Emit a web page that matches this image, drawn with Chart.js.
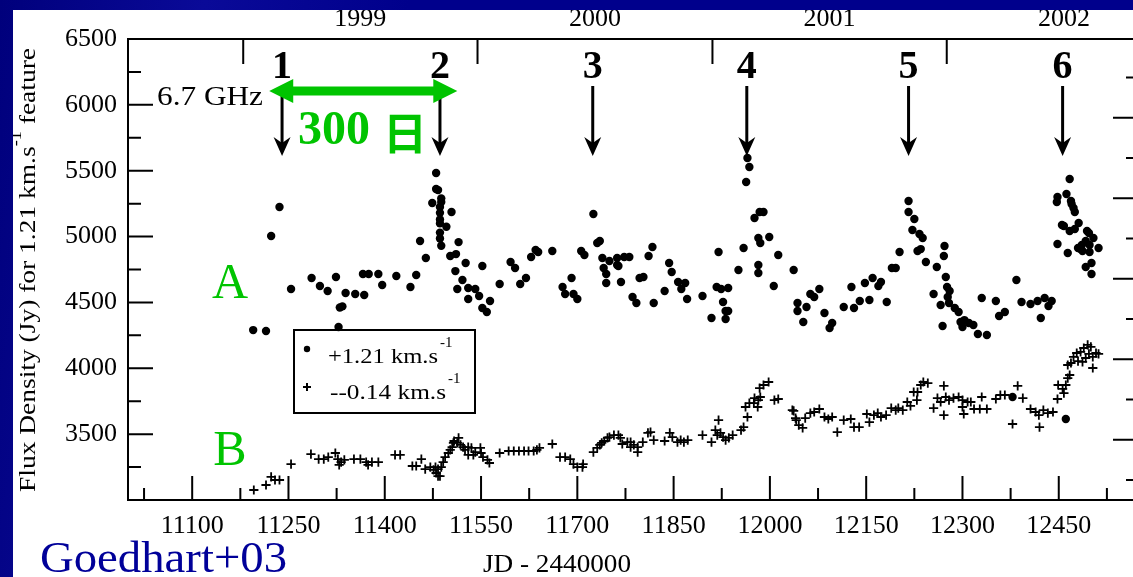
<!DOCTYPE html>
<html lang="ja">
<head>
<meta charset="UTF-8">
<title>6.7 GHz flux density</title>
<script src="https://cdn.jsdelivr.net/npm/chart.js@4.4.0/dist/chart.umd.min.js"></script>
<style>
  html, body { margin: 0; padding: 0; overflow: hidden; background: #00008c; }
  canvas { display: block; }
</style>
</head>
<body>
<canvas id="flux" width="1148" height="577"></canvas>
<script>
// +1.21 km/s feature (dots): [JD - 2440000, Jy]
const featureA = [
  [11195,4290],[11215,4283],[11223,5004],[11236,5224],[11254,4602],[11286,4685],[11299,4625],
  [11311,4587],[11324,4693],[11328,4313],[11330,4461],[11334,4470],[11339,4572],[11354,4564],
  [11366,4716],[11368,4556],[11375,4716],[11390,4716],[11396,4632],[11418,4701],[11440,4617],
  [11449,4708],[11455,4966],[11464,4837],[11474,5255],[11480,5483],[11480,5361],[11483,5353],
  [11488,5290],[11488,5262],[11486,5224],[11486,5180],[11486,5130],[11486,5100],[11486,5030],
  [11486,4985],[11488,4930],[11496,5074],[11504,5186],[11502,4852],[11511,4867],[11515,4958],
  [11510,4738],[11526,4799],[11521,4670],[11513,4602],[11530,4610],[11541,4602],[11530,4526],
  [11547,4549],[11552,4777],[11552,4458],[11559,4427],[11564,4511],[11579,4640],[11596,4807],
  [11603,4761],[11611,4640],[11620,4685],[11628,4845],[11635,4898],[11639,4883],[11661,4890],
  [11677,4617],[11681,4564],[11691,4685],[11694,4564],[11700,4526],[11706,4890],[11711,4860],
  [11725,5171],[11731,4951],[11735,4966],[11739,4837],[11750,4815],[11741,4761],[11745,4716],
  [11745,4647],[11762,4837],[11762,4784],[11764,4777],[11773,4845],[11781,4845],[11768,4655],
  [11786,4541],[11792,4496],[11797,4685],[11803,4693],[11811,4853],[11817,4921],[11819,4496],
  [11836,4587],[11843,4799],[11847,4731],[11857,4655],[11868,4647],[11862,4602],[11871,4526],
  [11895,4549],[11909,4382],[11920,4883],[11917,4617],[11924,4602],[11935,4610],[11927,4503],
  [11931,4435],[11935,4435],[11931,4374],[11951,4746],[11959,4913],[11965,5597],[11968,5528],
  [11963,5414],[11976,5141],[11984,5186],[11990,5186],[11982,4989],[11985,4951],[11999,4997],
  [11982,4784],[11982,4723],[12013,4860],[12006,4625],[12037,4746],[12043,4496],[12043,4435],
  [12057,4465],[12052,4351],[12063,4564],[12069,4541],[12077,4602],[12085,4420],[12093,4306],
  [12097,4344],[12115,4465],[12127,4617],[12131,4458],[12140,4511],[12148,4647],[12155,4518],
  [12160,4685],[12169,4625],[12173,4655],[12182,4503],[12190,4761],[12196,4761],[12202,4883],
  [12216,5270],[12216,5186],[12225,5133],[12222,5050],[12233,5020],[12238,4989],[12230,4890],
  [12235,4905],[12243,4807],[12260,4769],[12272,4928],[12271,4852],[12274,4693],[12255,4564],
  [12276,4617],[12280,4587],[12277,4541],[12266,4480],[12279,4496],[12269,4321],[12288,4458],
  [12294,4427],[12297,4351],[12303,4366],[12310,4344],[12317,4329],[12300,4313],[12324,4260],
  [12338,4253],[12330,4534],[12352,4511],[12357,4397],[12366,4427],[12384,4670],[12392,4503],
  [12406,4488],[12417,4511],[12428,4534],[12439,4511],[12422,4382],[12434,4473],[12378,3782],
  [12461,3615],[12467,5437],[12462,5323],[12448,5300],[12447,5262],[12469,5270],[12470,5247],
  [12473,5217],[12475,5186],[12455,5088],[12458,5080],[12481,5103],[12467,5042],[12475,5057],
  [12494,5042],[12497,5027],[12504,4989],[12448,4944],[12492,4966],[12486,4936],[12480,4913],
  [12498,4936],[12512,4913],[12487,4890],[12498,4883],[12464,4875],[12501,4799],[12492,4769],
  [12501,4716],[12484,4905]
];

// -0.14 km/s feature (crosses): [JD - 2440000, Jy]
const featureB = [
  [11196,3076],[11215,3114],[11223,3175],[11229,3152],[11236,3152],[11254,3273],[11285,3349],
  [11297,3311],[11305,3311],[11312,3326],[11323,3357],[11327,3311],[11332,3288],[11329,3266],
  [11337,3304],[11352,3311],[11362,3311],[11371,3288],[11374,3266],[11380,3288],[11390,3288],
  [11416,3342],[11424,3342],[11443,3258],[11449,3258],[11457,3311],[11463,3235],[11471,3250],
  [11476,3228],[11480,3205],[11483,3182],[11486,3182],[11479,3250],[11483,3235],[11488,3250],
  [11491,3288],[11494,3326],[11499,3357],[11502,3380],[11505,3402],[11507,3433],[11508,3448],
  [11513,3433],[11515,3471],[11518,3418],[11522,3402],[11525,3380],[11530,3402],[11530,3342],
  [11535,3395],[11538,3342],[11541,3364],[11549,3395],[11550,3357],[11553,3326],[11560,3304],
  [11563,3281],[11579,3357],[11593,3372],[11601,3372],[11609,3372],[11617,3372],[11624,3372],
  [11632,3372],[11637,3380],[11641,3395],[11661,3425],[11673,3326],[11681,3326],[11689,3311],
  [11694,3273],[11700,3250],[11708,3250],[11709,3273],[11725,3364],[11731,3395],[11735,3418],
  [11738,3433],[11742,3448],[11747,3471],[11750,3478],[11757,3493],[11764,3493],[11767,3471],
  [11770,3425],[11778,3440],[11783,3440],[11783,3402],[11788,3418],[11794,3364],[11794,3402],
  [11802,3440],[11810,3509],[11814,3516],[11819,3455],[11836,3448],[11844,3509],[11848,3478],
  [11856,3440],[11861,3455],[11866,3440],[11872,3455],[11895,3493],[11909,3440],[11915,3531],
  [11920,3607],[11918,3493],[11923,3509],[11927,3478],[11931,3455],[11936,3471],[11942,3493],
  [11955,3531],[11959,3554],[11965,3630],[11962,3706],[11968,3736],[11975,3736],[11976,3774],
  [11982,3759],[11981,3706],[11985,3782],[11984,3850],[11990,3873],[11998,3896],[12007,3759],
  [12013,3767],[12035,3683],[12040,3622],[12045,3569],[12037,3676],[12041,3607],[12051,3547],
  [12055,3622],[12063,3660],[12069,3668],[12077,3691],[12085,3630],[12091,3615],[12097,3630],
  [12105,3516],[12115,3607],[12126,3615],[12131,3554],[12139,3554],[12151,3653],[12155,3592],
  [12162,3645],[12168,3660],[12173,3630],[12181,3645],[12189,3698],[12196,3683],[12200,3698],
  [12207,3683],[12214,3744],[12219,3714],[12224,3820],[12229,3759],[12230,3820],[12235,3873],
  [12239,3896],[12246,3888],[12255,3698],[12261,3774],[12266,3744],[12271,3645],[12271,3866],
  [12274,3782],[12279,3759],[12286,3774],[12294,3782],[12300,3759],[12300,3706],[12302,3653],
  [12308,3744],[12313,3744],[12318,3691],[12327,3691],[12338,3691],[12330,3782],[12352,3767],
  [12359,3797],[12366,3797],[12378,3577],[12386,3866],[12394,3774],[12406,3691],[12414,3668],
  [12419,3645],[12420,3554],[12426,3683],[12433,3660],[12441,3668],[12448,3767],[12449,3873],
  [12456,3843],[12458,3812],[12461,3873],[12464,3926],[12467,3949],[12464,4025],[12469,4040],
  [12473,4086],[12478,4116],[12480,4055],[12484,4124],[12489,4154],[12495,4177],[12500,4162],
  [12503,4086],[12503,4002],[12508,4116],[12512,4109],[12497,4109],[12492,4078],[12487,4048]
];

const xTickValues = [11100, 11250, 11400, 11550, 11700, 11850, 12000, 12150, 12300, 12450];
const yTickValues = [3500, 4000, 4500, 5000, 5500, 6000, 6500];
const yearLabels = ['1999', '2000', '2001', '2002'];
const yearMiddles = [11362, 11727.5, 12093, 12458];
const yearStarts = [11179.5, 11544.5, 11910.5, 12275.5];
const flareDays = [11240, 11486, 11724, 11964, 12216, 12456];
const flareLabels = ['1', '2', '3', '4', '5', '6'];
const rightTickValues = [250, 300, 350, 400, 450, 500, 550, 600, 650, 700, 750];

const SERIF = '"Liberation Serif", "Times New Roman", serif';
const GREEN = '#00c400';

// draw text squeezed/stretched to a given width
function fitText(ctx, text, x, y, width) {
  const w = ctx.measureText(text).width;
  ctx.save();
  ctx.translate(x, y);
  ctx.scale(width / w, 1);
  ctx.fillText(text, 0, 0);
  ctx.restore();
}

const decor = {
  id: 'decor',
  beforeDraw(chart) {
    const ctx = chart.ctx;
    ctx.save();
    ctx.fillStyle = '#ffffff';
    ctx.fillRect(13, 10, chart.width, chart.height);
    ctx.restore();
  },
  afterDraw(chart) {
    const ctx = chart.ctx;
    const xs = chart.scales.x, ys = chart.scales.y, ys2 = chart.scales.y2;
    const { left, right, top, bottom } = chart.chartArea;
    ctx.save();

    // frame and inward ticks
    ctx.strokeStyle = '#000';
    ctx.lineWidth = 2;
    ctx.strokeRect(left, top, right - left, bottom - top);
    ctx.beginPath();
    for (let v = 11025; v < 12575; v += 75) {
      const px = xs.getPixelForValue(v);
      const len = (v - 11100) % 150 === 0 ? 24 : 12;
      ctx.moveTo(px, bottom); ctx.lineTo(px, bottom - len);
    }
    yearStarts.forEach(v => {
      const px = xs.getPixelForValue(v);
      ctx.moveTo(px, top); ctx.lineTo(px, top + 25);
    });
    for (let v = 3250; v < 6500; v += 250) {
      const py = ys.getPixelForValue(v);
      ctx.moveTo(left, py); ctx.lineTo(left + (v % 500 === 0 ? 25 : 13), py);
    }
    rightTickValues.forEach(v => {
      const py = ys2.getPixelForValue(v);
      ctx.moveTo(right, py); ctx.lineTo(right - (v % 100 === 0 ? 26 : 13), py);
    });
    ctx.stroke();

    // flare numbers and arrows
    ctx.fillStyle = '#000';
    ctx.textAlign = 'center';
    ctx.textBaseline = 'middle';
    ctx.font = 'bold 40px ' + SERIF;
    flareDays.forEach((d, i) => {
      const px = xs.getPixelForValue(d);
      ctx.fillText(flareLabels[i], px, 68);
      ctx.lineWidth = 3;
      ctx.beginPath();
      ctx.moveTo(px, 86); ctx.lineTo(px, 145);
      ctx.stroke();
      ctx.beginPath();
      ctx.moveTo(px, 156);
      ctx.lineTo(px - 8.5, 137);
      ctx.lineTo(px, 143);
      ctx.lineTo(px + 8.5, 137);
      ctx.closePath();
      ctx.fill();
    });

    // 300-day span arrow
    const g1 = xs.getPixelForValue(11220), g2 = xs.getPixelForValue(11513);
    ctx.fillStyle = GREEN;
    ctx.fillRect(g1 + 20, 86.5, g2 - g1 - 40, 9);
    ctx.beginPath();
    ctx.moveTo(g1, 91); ctx.lineTo(g1 + 24, 79); ctx.lineTo(g1 + 24, 103); ctx.closePath();
    ctx.moveTo(g2, 91); ctx.lineTo(g2 - 24, 79); ctx.lineTo(g2 - 24, 103); ctx.closePath();
    ctx.fill();
    ctx.textAlign = 'left';
    ctx.font = 'bold 48px ' + SERIF;
    ctx.fillText('300', 298, 132);
    ctx.font = 'bold 44px "Noto Sans CJK JP", sans-serif';
    ctx.fillText('日', 383, 133);

    // A / B labels
    ctx.textAlign = 'center';
    ctx.font = '50px ' + SERIF;
    ctx.fillText('A', 230, 285);
    ctx.fillText('B', 230, 452);

    // 6.7 GHz
    ctx.fillStyle = '#000';
    ctx.textAlign = 'left';
    ctx.font = '27px ' + SERIF;
    fitText(ctx, '6.7 GHz', 157, 98, 106);

    // legend box
    ctx.lineWidth = 2;
    ctx.strokeRect(294, 330, 181, 83);
    ctx.beginPath();
    ctx.arc(307, 349, 3.2, 0, Math.PI * 2);
    ctx.fill();
    ctx.beginPath();
    ctx.moveTo(303, 387); ctx.lineTo(311, 387);
    ctx.moveTo(307, 383); ctx.lineTo(307, 391);
    ctx.stroke();
    ctx.font = '22px ' + SERIF;
    fitText(ctx, '+1.21 km.s', 328, 357, 110);
    fitText(ctx, '--0.14 km.s', 330, 393, 116);
    ctx.font = '15px ' + SERIF;
    ctx.fillText('-1', 440, 343);
    ctx.fillText('-1', 448, 379);

    // axis titles
    ctx.font = '26px ' + SERIF;
    ctx.textAlign = 'center';
    fitText(ctx, 'JD - 2440000', 631 - 74, 565, 148);

    ctx.save();
    ctx.translate(29, 270);
    ctx.rotate(-Math.PI / 2);
    ctx.textAlign = 'left';
    const main = 'Flux Density (Jy) for 1.21 km.s';
    const tail = ' feature';
    ctx.font = '24px ' + SERIF;
    const w1 = ctx.measureText(main).width, w3 = ctx.measureText(tail).width;
    ctx.font = '16px ' + SERIF;
    const w2 = ctx.measureText('-1').width;
    const k = 444 / (w1 + w2 + w3);
    ctx.scale(k, 1);
    let x0 = -(w1 + w2 + w3) / 2;
    ctx.font = '24px ' + SERIF;
    ctx.fillText(main, x0, 0);
    ctx.font = '16px ' + SERIF;
    ctx.fillText('-1', x0 + w1, -12);
    ctx.font = '24px ' + SERIF;
    ctx.fillText(tail, x0 + w1 + w2, 0);
    ctx.restore();

    // citation
    ctx.fillStyle = '#000099';
    ctx.textAlign = 'left';
    ctx.textBaseline = 'alphabetic';
    ctx.font = '44px ' + SERIF;
    fitText(ctx, 'Goedhart+03', 40, 572, 247);

    // slide border over the figure
    const grad = ctx.createLinearGradient(0, 0, 400, 60);
    grad.addColorStop(0, '#00007c');
    grad.addColorStop(0.5, '#0a0a98');
    grad.addColorStop(1, '#00008c');
    ctx.fillStyle = grad;
    ctx.fillRect(0, 0, chart.width, 10);
    ctx.fillRect(0, 0, 13, chart.height);
    ctx.restore();
  }
};

new Chart(document.getElementById('flux'), {
  type: 'scatter',
  data: {
    datasets: [{
      label: '+1.21 km.s-1',
      data: featureA.map(p => ({ x: p[0], y: p[1] })),
      pointStyle: 'circle',
      pointRadius: 4.2,
      backgroundColor: '#000',
      borderWidth: 0
    }, {
      label: '--0.14 km.s-1',
      data: featureB.map(p => ({ x: p[0], y: p[1] })),
      pointStyle: 'cross',
      pointRadius: 4.6,
      borderColor: '#000',
      borderWidth: 1.8
    }]
  },
  options: {
    responsive: false,
    animation: false,
    events: [],
    layout: { padding: 0 },
    plugins: { legend: { display: false }, tooltip: { enabled: false } },
    scales: {
      x: {
        type: 'linear', position: 'bottom', min: 11000, max: 12575,
        grid: { display: false, drawTicks: false },
        border: { display: false },
        afterBuildTicks: s => { s.ticks = xTickValues.map(v => ({ value: v })); },
        afterFit: s => { s.height = 77; },
        ticks: { autoSkip: false, maxRotation: 0, padding: 11, color: '#000',
                 font: { family: SERIF, size: 26 }, callback: v => String(v) }
      },
      x2: {
        type: 'linear', position: 'top', min: 11000, max: 12575,
        grid: { display: false, drawTicks: false },
        border: { display: false },
        afterBuildTicks: s => { s.ticks = yearMiddles.map(v => ({ value: v })); },
        afterFit: s => { s.height = 39; },
        ticks: { autoSkip: false, maxRotation: 0, padding: 4, color: '#000',
                 font: { family: SERIF, size: 26 }, callback: (v, i) => yearLabels[i] }
      },
      y: {
        type: 'linear', position: 'left', min: 3000, max: 6500,
        grid: { display: false, drawTicks: false },
        border: { display: false },
        afterBuildTicks: s => { s.ticks = yTickValues.map(v => ({ value: v })); },
        afterFit: s => { s.width = 128; },
        ticks: { autoSkip: false, padding: 11, color: '#000',
                 font: { family: SERIF, size: 26 }, callback: v => String(v) }
      },
      y2: {
        type: 'linear', position: 'right', min: 225, max: 798,
        grid: { display: false, drawTicks: false },
        border: { display: false },
        ticks: { display: false },
        afterFit: s => { s.width = 9; }
      }
    }
  },
  plugins: [decor]
});
</script>
</body>
</html>
